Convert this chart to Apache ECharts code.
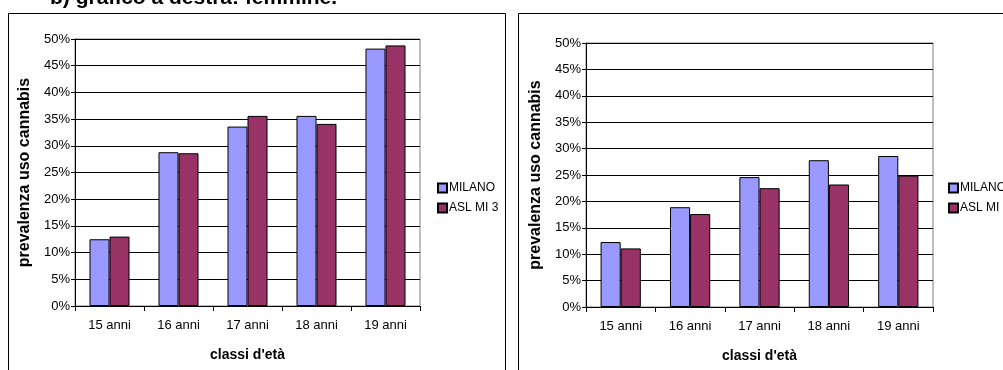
<!DOCTYPE html>
<html>
<head>
<meta charset="utf-8">
<script src="https://cdn.jsdelivr.net/npm/echarts@6/dist/echarts.min.js"></script>
<style>
  html, body { margin: 0; padding: 0; background: #fff; }
  #chart { width: 1003px; height: 370px; }
</style>
</head>
<body>
<div id="chart"></div>
<script>
// Age classes and prevalence of cannabis use (%)
const categories = ['15 anni', '16 anni', '17 anni', '18 anni', '19 anni'];
const seriesNames = ['MILANO', 'ASL MI 3'];

// left panel
const maleMilano = [12.5, 28.8, 33.6, 35.6, 48.2];
const maleAsl = [13.0, 28.6, 35.6, 34.1, 48.8];

// right panel: females
const femaleMilano = [12.3, 18.9, 24.6, 27.8, 28.6];
const femaleAsl = [11.1, 17.6, 22.5, 23.2, 24.9];

const colors = ['#9999FF', '#993366'];
const font = 'Liberation Sans, Arial, sans-serif';

function xAxis(gridIndex) {
  return {
    type: 'category', gridIndex, data: categories,
    name: "classi d'età", nameLocation: 'middle', nameGap: 42,
    nameTextStyle: { fontFamily: font, fontWeight: 'bold', fontSize: 14, color: '#000' },
    axisLine: { lineStyle: { color: '#000', width: 1 } },
    axisTick: { show: true, length: 5, lineStyle: { color: '#000' } },
    axisLabel: { fontFamily: font, fontSize: 13, color: '#000', margin: 13 },
    splitLine: { show: false }
  };
}

function yAxis(gridIndex) {
  return {
    type: 'value', gridIndex, min: 0, max: 50, interval: 5,
    name: 'prevalenza uso cannabis', nameLocation: 'middle', nameGap: 42,
    nameTextStyle: { fontFamily: font, fontWeight: 'bold', fontSize: 16, color: '#000' },
    axisLine: { show: true, lineStyle: { color: '#000', width: 1 } },
    axisTick: { show: true, length: 4, lineStyle: { color: '#000' } },
    axisLabel: { fontFamily: font, fontSize: 13, color: '#000', margin: 5, formatter: '{value}%' },
    splitLine: { show: true, lineStyle: { color: '#000', width: 1 } }
  };
}

function bars(name, data, idx, axisIndex) {
  return {
    type: 'bar', name, data,
    xAxisIndex: axisIndex, yAxisIndex: axisIndex,
    barGap: '0%', barCategoryGap: '42%',
    itemStyle: { color: colors[idx], borderColor: '#000', borderWidth: 1 },
    emphasis: { disabled: true },
    animation: false
  };
}

function legend(left, top) {
  return {
    orient: 'vertical', left, top,
    itemWidth: 9, itemHeight: 9, itemGap: 6,
    icon: 'rect',
    textStyle: { fontFamily: font, fontSize: 12, color: '#000', lineHeight: 14, padding: [0, 0, 0, -3] },
    data: seriesNames,
    selectedMode: false
  };
}

const chart = echarts.init(document.getElementById('chart'), null, { renderer: 'canvas' });
chart.setOption({
  animation: false,
  backgroundColor: '#fff',
  color: colors,
  grid: [
    { left: 75, right: 583, top: 39, bottom: 64, show: true, borderColor: '#808080', borderWidth: 1, backgroundColor: 'transparent' },
    { left: 586, right: 70, top: 43, bottom: 63, show: true, borderColor: '#808080', borderWidth: 1, backgroundColor: 'transparent' }
  ],
  xAxis: [xAxis(0), xAxis(1)],
  yAxis: [yAxis(0), yAxis(1)],
  legend: [legend(432, 176), legend(943, 176)],
  series: [
    bars(seriesNames[0], maleMilano, 0, 0),
    bars(seriesNames[1], maleAsl, 1, 0),
    bars(seriesNames[0], femaleMilano, 0, 1),
    bars(seriesNames[1], femaleAsl, 1, 1)
  ],
  graphic: [
    {
      type: 'text', left: 50, top: -12,
      style: { text: 'b) grafico a destra: femmine.', fontFamily: font, fontWeight: 'bold', fontSize: 21, fill: '#000' }
    },
    {
      type: 'rect', shape: { x: 8.5, y: 13.5, width: 497, height: 400 },
      style: { fill: 'none', stroke: '#000', lineWidth: 1 }, z: -1
    },
    {
      type: 'rect', shape: { x: 518.5, y: 13.5, width: 500, height: 400 },
      style: { fill: 'none', stroke: '#000', lineWidth: 1 }, z: -1
    }
  ]
});
</script>
</body>
</html>
